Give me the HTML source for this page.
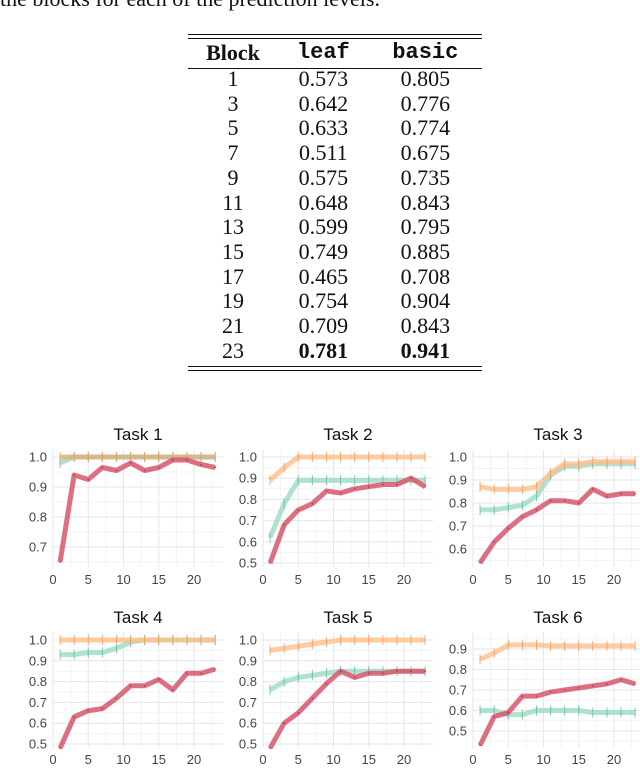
<!DOCTYPE html>
<html><head><meta charset="utf-8">
<style>
body{margin:0;width:640px;height:768px;background:#fff;overflow:hidden;position:relative;font-family:"Liberation Serif",serif}
#cap{position:absolute;left:0;top:-14px;font-size:22px;white-space:nowrap;color:#111}
table{position:absolute;left:188px;top:34px;width:294px;border-collapse:collapse;font-size:22px;color:#111}
.tl{position:absolute;left:188px;width:294px;height:1px;background:#111}
td,th{text-align:center;padding:0;height:24.7px;line-height:24.7px}
th{height:28px}
.m{font-family:"Liberation Mono",monospace;font-weight:bold}
svg{position:absolute;left:0;top:0}
</style></head><body>
<div id="cap">the blocks for each of the prediction levels.</div>
<div class="tl" style="top:34px"></div>
<div class="tl" style="top:38px"></div>
<div class="tl" style="top:68px"></div>
<div class="tl" style="top:366px"></div>
<div class="tl" style="top:370px"></div>
<table style="top:39px">
<tr><th style="width:90px">Block</th><th class="m">leaf</th><th class="m">basic</th></tr>
<tr><td>1</td><td>0.573</td><td>0.805</td></tr>
<tr><td>3</td><td>0.642</td><td>0.776</td></tr>
<tr><td>5</td><td>0.633</td><td>0.774</td></tr>
<tr><td>7</td><td>0.511</td><td>0.675</td></tr>
<tr><td>9</td><td>0.575</td><td>0.735</td></tr>
<tr><td>11</td><td>0.648</td><td>0.843</td></tr>
<tr><td>13</td><td>0.599</td><td>0.795</td></tr>
<tr><td>15</td><td>0.749</td><td>0.885</td></tr>
<tr><td>17</td><td>0.465</td><td>0.708</td></tr>
<tr><td>19</td><td>0.754</td><td>0.904</td></tr>
<tr><td>21</td><td>0.709</td><td>0.843</td></tr>
<tr><td>23</td><td><b>0.781</b></td><td><b>0.941</b></td></tr>
</table>
<svg id="ch" width="640" height="768"></svg>
<script>
const blocks=[1,3,5,7,9,11,13,15,17,19,21,23];
const xTicks=[0,5,10,15,20];
const red1=[.65,.94,.925,.965,.955,.98,.955,.965,.99,.99,.975,.965];
const green1=[.98,1,1,1,1,1,1,1,1,1,1,1];
const orange1=[1,1,1,1,1,1,1,1,1,1,1,1];
const red2=[.50,.68,.75,.78,.84,.83,.85,.86,.87,.87,.9,.86];
const green2=[.62,.78,.89,.89,.89,.89,.89,.89,.89,.89,.89,.89];
const orange2=[.89,.95,1,1,1,1,1,1,1,1,1,1];
const red3=[.54,.63,.69,.74,.77,.81,.81,.80,.86,.83,.84,.84];
const green3=[.77,.77,.78,.79,.83,.92,.96,.96,.97,.97,.97,.97];
const orange3=[.87,.86,.86,.86,.87,.93,.97,.97,.98,.98,.98,.98];
const red4=[.48,.63,.66,.67,.72,.78,.78,.81,.76,.84,.84,.86];
const green4=[.93,.93,.94,.94,.96,.99,1,1,1,1,1,1];
const orange4=[1,1,1,1,1,1,1,1,1,1,1,1];
const red5=[.48,.60,.65,.72,.79,.85,.82,.84,.84,.85,.85,.85];
const green5=[.76,.80,.82,.83,.84,.85,.85,.85,.85,.85,.85,.85];
const orange5=[.95,.96,.97,.98,.99,1,1,1,1,1,1,1];
const red6=[.43,.57,.59,.67,.67,.69,.70,.71,.72,.73,.75,.73];
const green6=[.60,.60,.58,.58,.60,.60,.60,.60,.59,.59,.59,.59];
const orange6=[.85,.88,.92,.92,.92,.915,.915,.915,.915,.915,.915,.915];
const yTicks1=[0.7,0.8,0.9,1.0],yTicks2=[0.5,0.6,0.7,0.8,0.9,1.0],yTicks6=[0.5,0.6,0.7,0.8,0.9];
const NS='http://www.w3.org/2000/svg';const svg=document.getElementById('ch');
function mk(t,a,p){const e=document.createElementNS(NS,t);for(const k in a)e.setAttribute(k,a[k]);(p||svg).appendChild(e);return e;}
const panels=[
 {t:'Task 1',x0:53,top:450,bot:567,v1:1.0,p1:457,v2:0.7,p2:547,yt:yTicks1,s:[green1,orange1,red1],xl:584,ty:440,tan:true},
 {t:'Task 2',x0:263,top:450,bot:567,v1:1.0,p1:457,v2:0.5,p2:563,yt:yTicks2,s:[green2,orange2,red2],xl:584,ty:440},
 {t:'Task 3',x0:473,top:450,bot:567,v1:1.0,p1:457,v2:0.6,p2:549,yt:yTicks2.slice(1),s:[green3,orange3,red3],xl:584,ty:440},
 {t:'Task 4',x0:53,top:632,bot:748,v1:1.0,p1:640,v2:0.5,p2:744,yt:yTicks2,s:[green4,orange4,red4],xl:764,ty:623,tan:true},
 {t:'Task 5',x0:263,top:632,bot:748,v1:1.0,p1:640,v2:0.5,p2:744,yt:yTicks2,s:[green5,orange5,red5],xl:764,ty:623},
 {t:'Task 6',x0:473,top:632,bot:748,v1:0.9,p1:649,v2:0.5,p2:731,yt:yTicks6,s:[green6,orange6,red6],xl:764,ty:623}];
const cols=['#9ed9c3','#fdbf8f','#d6576b'],tk=['#5bbf9a','#f59a55','#a8324a'];
panels.forEach((P,i)=>{
 const g=mk('g',{});
 
 
 const xs=v=>P.x0+v*7.05, ys=v=>P.p1+(v-P.v1)*(P.p2-P.p1)/(P.v2-P.v1);
 const L=P.x0+0,R=P.x0+170;
 for(let v=0;v<=22.5;v+=2.5)mk('line',{x1:xs(v),x2:xs(v),y1:P.top,y2:P.bot,stroke:v%5?'#f3f3f3':'#e6e6e6','stroke-width':1},g);
 for(let v=0.3;v<=1.05;v+=0.05){const y=ys(v);if(y<P.top||y>P.bot)continue;const major=Math.abs(v*10-Math.round(v*10))<0.01;mk('line',{x1:L,x2:R,y1:y,y2:y,stroke:major?'#e6e6e6':'#f3f3f3','stroke-width':1},g);}
 P.yt.forEach(v=>{const t=mk('text',{x:L-6,y:ys(v)+4.5,'text-anchor':'end','font-size':13,fill:'#444','font-family':'Liberation Sans,sans-serif'},g);t.textContent=v.toFixed(1);});
 xTicks.forEach(v=>{const t=mk('text',{x:xs(v),y:P.xl,'text-anchor':'middle','font-size':13,fill:'#444','font-family':'Liberation Sans,sans-serif'},g);t.textContent=v;});
 const tt=mk('text',{x:P.x0+85,y:P.ty,'text-anchor':'middle','font-size':17,fill:'#111','font-family':'Liberation Sans,sans-serif'},g);tt.textContent=P.t;
 
 P.s.forEach((arr,j)=>{
  const pts=blocks.map((b,k)=>xs(b)+','+ys(arr[k])).join(' ');
  let c=cols[j];
  if(j==1&&P.tan&&i==0)c='#d8b07f';
  const pl=mk('polyline',{points:pts,fill:'none',stroke:c,'stroke-width':5,'stroke-opacity':j==2?0.85:0.8,'stroke-linejoin':'round'},g);
  
  
  blocks.forEach((b,k)=>{if(j<2)mk('line',{x1:xs(b),x2:xs(b),y1:ys(arr[k])-5,y2:ys(arr[k])+5,stroke:tk[j],'stroke-width':1,'stroke-opacity':0.8},g);else mk('circle',{cx:xs(b),cy:ys(arr[k]),r:0.8,fill:tk[j]},g);});
 });
});
</script>
</body></html>
